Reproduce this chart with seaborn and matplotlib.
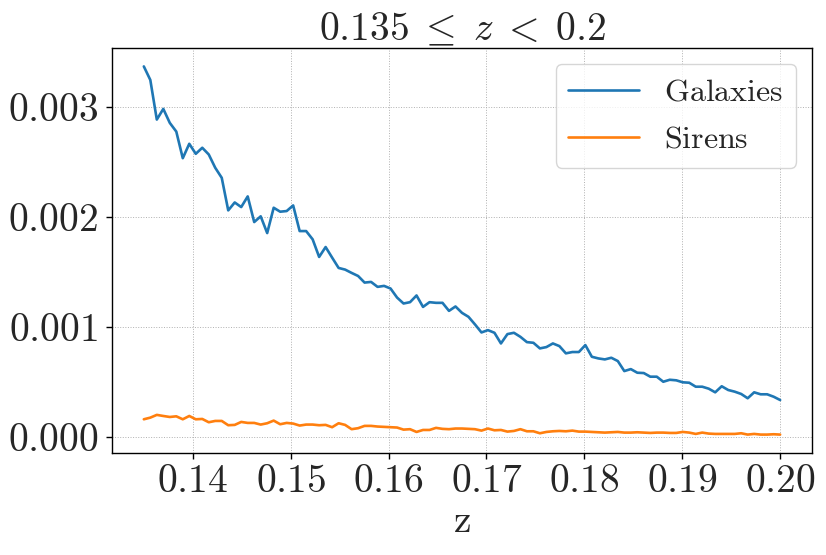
import numpy as np
import pandas as pd
import seaborn as sns
import matplotlib
matplotlib.use("Agg")
import matplotlib.pyplot as plt
from matplotlib.ticker import FuncFormatter

# redshift bin centres, 0.135 <= z < 0.2
z = np.linspace(0.135, 0.2, 99)

galaxies = [
    0.003366, 0.003243, 0.002883, 0.002980, 0.002853, 0.002774, 0.002532, 0.002663, 0.002572, 0.002627,
    0.002566, 0.002445, 0.002354, 0.002058, 0.002130, 0.002088, 0.002185, 0.001952, 0.002004, 0.001852,
    0.002082, 0.002046, 0.002052, 0.002103, 0.001870, 0.001870, 0.001795, 0.001635, 0.001725, 0.001629,
    0.001535, 0.001520, 0.001490, 0.001462, 0.001402, 0.001408, 0.001363, 0.001372, 0.001348, 0.001266,
    0.001212, 0.001224, 0.001285, 0.001181, 0.001224, 0.001218, 0.001218, 0.001145, 0.001185, 0.001127,
    0.001091, 0.001022, 0.000949, 0.000970, 0.000946, 0.000849, 0.000934, 0.000946, 0.000909, 0.000861,
    0.000855, 0.000804, 0.000816, 0.000849, 0.000825, 0.000759, 0.000771, 0.000771, 0.000834, 0.000728,
    0.000713, 0.000704, 0.000719, 0.000689, 0.000598, 0.000616, 0.000583, 0.000580, 0.000547, 0.000547,
    0.000501, 0.000519, 0.000514, 0.000496, 0.000492, 0.000456, 0.000456, 0.000438, 0.000405, 0.000460,
    0.000426, 0.000411, 0.000390, 0.000351, 0.000405, 0.000387, 0.000387, 0.000365, 0.000335,
]

sirens = [
    0.000160, 0.000175, 0.000200, 0.000190, 0.000181, 0.000187, 0.000160, 0.000190, 0.000160, 0.000163,
    0.000133, 0.000145, 0.000145, 0.000106, 0.000109, 0.000136, 0.000127, 0.000127, 0.000112, 0.000124,
    0.000148, 0.000115, 0.000127, 0.000121, 0.000103, 0.000112, 0.000112, 0.000106, 0.000109, 0.000088,
    0.000124, 0.000109, 0.000070, 0.000079, 0.000100, 0.000100, 0.000094, 0.000091, 0.000088, 0.000085,
    0.000066, 0.000070, 0.000045, 0.000063, 0.000063, 0.000082, 0.000073, 0.000070, 0.000076, 0.000076,
    0.000073, 0.000070, 0.000057, 0.000076, 0.000060, 0.000063, 0.000048, 0.000054, 0.000070, 0.000051,
    0.000051, 0.000033, 0.000045, 0.000051, 0.000054, 0.000051, 0.000057, 0.000048, 0.000048, 0.000045,
    0.000042, 0.000039, 0.000042, 0.000045, 0.000039, 0.000039, 0.000042, 0.000039, 0.000036, 0.000039,
    0.000039, 0.000036, 0.000036, 0.000045, 0.000039, 0.000027, 0.000039, 0.000030, 0.000027, 0.000027,
    0.000027, 0.000027, 0.000033, 0.000021, 0.000027, 0.000021, 0.000021, 0.000024, 0.000021,
]

df = pd.DataFrame({"z": z, "Galaxies": galaxies, "Sirens": sirens})

sns.set_style("whitegrid", {"axes.edgecolor": "black", "grid.linestyle": ":",
                            "grid.color": "#b0b0b0", "xtick.bottom": True, "ytick.left": True})
plt.rcParams["font.family"] = ["DejaVu Serif"]
plt.rcParams["mathtext.fontset"] = "cm"

fig, ax = plt.subplots(figsize=(8.26, 5.55), dpi=100)
sns.lineplot(data=df, x="z", y="Galaxies", color="tab:blue", linewidth=1.9,
             label=r"$\mathrm{Galaxies}$", ax=ax)
sns.lineplot(data=df, x="z", y="Sirens", color="tab:orange", linewidth=1.9,
             label=r"$\mathrm{Sirens}$", ax=ax)

ax.set_xticks([0.14, 0.15, 0.16, 0.17, 0.18, 0.19, 0.20])
ax.set_yticks([0.0, 0.001, 0.002, 0.003])
ax.xaxis.set_major_formatter(FuncFormatter(lambda v, p: f"${v:.2f}$"))
ax.yaxis.set_major_formatter(FuncFormatter(lambda v, p: f"${v:.3f}$"))
ax.tick_params(axis="both", labelsize=28.5, length=4, width=1, color="black", direction="out")
ax.tick_params(axis="y", pad=6)
for s in ax.spines.values():
    s.set_linewidth(1.0)
    s.set_color("black")
ax.grid(True, linestyle=":", linewidth=0.7, color="#b0b0b0")

ax.set_xlabel(r"$\mathrm{z}$", fontsize=28.5, labelpad=2)
ax.set_ylabel("")
ax.set_title(r"$0.135 \;\leq\; z \;<\; 0.2$", fontsize=28.5, pad=4)
ax.legend(loc="upper right", fontsize=23, frameon=True, fancybox=True, edgecolor="#cccccc",
          handlelength=2.2)

fig.subplots_adjust(left=0.1356, right=0.983, top=0.9135, bottom=0.1838)
fig.savefig("out.png", dpi=100)
